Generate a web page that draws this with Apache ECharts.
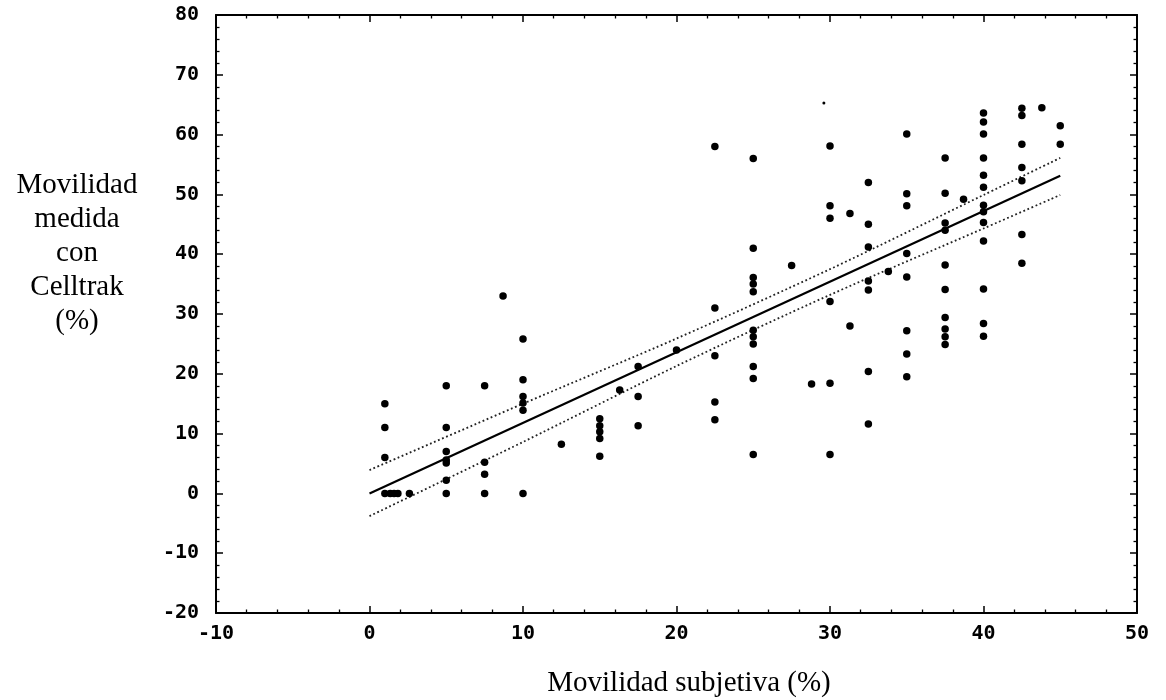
<!DOCTYPE html>
<html>
<head>
<meta charset="utf-8">
<script src="https://cdn.jsdelivr.net/npm/echarts@6/dist/echarts.min.js"></script>
<style>
html,body{margin:0;padding:0;background:#fff;}
#chart{width:1166px;height:700px;}
</style>
</head>
<body>
<div id="chart"></div>
<script>
// Data (x: subjective motility %, y: Celltrak motility %)
var subjX = [
  1,1,1,1, 1.35,1.6,1.85, 2.6,
  5,5,5,5,5,5,5,
  7.5,7.5,7.5,7.5,
  8.7,
  10,10,10,10,10,10,
  12.5,
  15,15,15,15,15,
  16.3,
  17.5,17.5,17.5,
  20,
  22.5,22.5,22.5,22.5,22.5,
  25,25,25,25,25,25,25,25,25,25,25,
  27.5,
  28.8,
  30,30,30,30,30,30,
  31.3,31.3,
  32.5,32.5,32.5,32.5,32.5,32.5,32.5,
  33.8,
  35,35,35,35,35,35,35,35,
  37.5,37.5,37.5,37.5,37.5,37.5,37.5,37.5,37.5,37.5,
  38.7,
  40,40,40,40,40,40,40,40,40,40,40,40,40,
  42.5,42.5,42.5,42.5,42.5,42.5,42.5,
  43.8,
  45,45
];
var cellY = [
  15,11,6,0, 0,0,0, 0,
  18,11,7,5.6,5.1,2.2,0,
  18,5.2,3.2,0,
  33,
  25.8,19,16.2,15.1,13.9,0,
  8.2,
  12.5,11.3,10.3,9.2,6.2,
  17.3,
  21.2,16.2,11.3,
  24,
  58,31,23,15.3,12.3,
  56,41,36.1,35,33.7,27.3,26.2,25,21.2,19.2,6.5,
  38.1,
  18.3,
  58.1,48.1,46,32.1,18.4,6.5,
  46.8,28,
  52,45,41.2,35.5,34,20.4,11.6,
  37.1,
  60.1,50.1,48.1,40.1,36.2,27.2,23.3,19.5,
  56.1,50.2,45.2,44,38.2,34.1,29.4,27.5,26.2,24.9,
  49.2,
  63.6,62.1,60.1,56.1,53.2,51.2,48.2,47.1,45.3,42.2,34.2,28.4,26.3,
  64.4,63.2,58.4,54.5,52.3,43.3,38.5,
  64.5,
  61.5,58.4
];
var speckX = [29.6];
var speckY = [65.3];

// Regression line and its confidence band
var fitX = [0, 45];
var fitY = [0, 53.1];
var bandX = [0, 10, 20, 30, 40, 45];
var bandUpper = [3.9, 15.0, 25.9, 37.5, 49.9, 56.1];
var bandLower = [-3.8, 8.6, 21.3, 33.2, 44.3, 49.9];

// Axes
var xMin = -10, xMax = 50, xStep = 10;
var yMin = -20, yMax = 80, yStep = 10;
var xTitle = 'Movilidad subjetiva (%)';
var yTitleLines = ['Movilidad', 'medida', 'con', 'Celltrak', '(%)'];

function zip(a, b) { return a.map(function (v, i) { return [v, b[i]]; }); }

var chart = echarts.init(document.getElementById('chart'), null, {renderer: 'canvas'});

var tickFont = {fontFamily: 'DejaVu Sans Mono', fontWeight: 'bold', fontSize: 20, color: '#000'};
function axisBase() {
  return {
    axisLine: {show: true, onZero: false, lineStyle: {color: '#000', width: 2}},
    axisTick: {show: true, inside: true, length: 7, lineStyle: {color: '#000', width: 1.5}},
    minorTick: {show: true, splitNumber: 5, length: 3.5, lineStyle: {color: '#000', width: 1.3}},
    splitLine: {show: false},
    minorSplitLine: {show: false}
  };
}

var option = {
  backgroundColor: '#fff',
  animation: false,
  grid: {left: 216, top: 15, width: 921, height: 598},
  xAxis: [
    Object.assign(axisBase(), {
      type: 'value', min: xMin, max: xMax, interval: xStep, position: 'bottom',
      axisLabel: Object.assign({margin: 11}, tickFont)
    }),
    Object.assign(axisBase(), {
      type: 'value', min: xMin, max: xMax, interval: xStep, position: 'top',
      axisLabel: {show: false}
    })
  ],
  yAxis: [
    Object.assign(axisBase(), {
      type: 'value', min: yMin, max: yMax, interval: yStep, position: 'left',
      axisLabel: Object.assign({margin: 17}, tickFont)
    }),
    Object.assign(axisBase(), {
      type: 'value', min: yMin, max: yMax, interval: yStep, position: 'right',
      axisLabel: {show: false}
    })
  ],
  series: [
    {
      type: 'line', data: zip(bandX, bandUpper), showSymbol: false, smooth: 0.3,
      lineStyle: {color: '#222', width: 1.8, type: [1.8, 2.6]}, z: 2
    },
    {
      type: 'line', data: zip(bandX, bandLower), showSymbol: false, smooth: 0.3,
      lineStyle: {color: '#222', width: 1.8, type: [1.8, 2.6]}, z: 2
    },
    {
      type: 'line', data: zip(fitX, fitY), showSymbol: false,
      lineStyle: {color: '#000', width: 2.2}, z: 3
    },
    {
      type: 'scatter', data: zip(subjX, cellY), symbol: 'circle', symbolSize: 7.5,
      itemStyle: {color: '#000', opacity: 1}, z: 4
    },
    {
      type: 'scatter', data: zip(speckX, speckY), symbol: 'circle', symbolSize: 3,
      itemStyle: {color: '#000', opacity: 1}, z: 4
    }
  ],
  graphic: [
    {
      type: 'text', x: 689, y: 683, z: 10,
      style: {text: xTitle, font: '29px "Liberation Serif"', fill: '#000', align: 'center', verticalAlign: 'middle'}
    },
    {
      type: 'text', x: 77, y: 253, z: 10,
      style: {
        text: yTitleLines.join('\n'), font: '29px "Liberation Serif"', fill: '#000',
        align: 'center', verticalAlign: 'middle', lineHeight: 34
      }
    }
  ]
};
chart.setOption(option);
</script>
</body>
</html>
